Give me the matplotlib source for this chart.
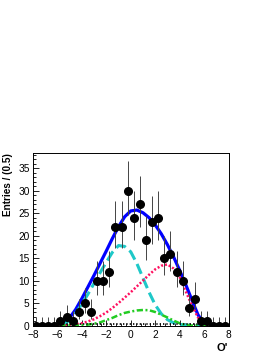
import numpy as np
import matplotlib
matplotlib.use("Agg")
import matplotlib.pyplot as plt
from matplotlib.ticker import MultipleLocator

plt.rcParams['font.family'] = ['Liberation Sans', 'DejaVu Sans']

# binned data (0.5 wide bins from -8 to 8)
bin_centres = np.arange(-7.75, 8.0, 0.5)
entries = [0, 0, 0, 0, 1, 2, 1, 3, 5, 3, 10, 10, 12, 22, 22, 30,
           24, 27, 19, 23, 24, 15, 16, 12, 10, 4, 6, 1, 1, 0, 0, 0]

# fitted curves on a 0.5 grid from -8 to 8
curve_x = np.arange(-8.0, 8.01, 0.5)
nan = np.nan
total_fit = [nan, nan, nan, nan, nan, 0.2, 1.7, 3.6, 6.0, 8.6, 11.2,
             13.9, 16.6, 19.4, 22.0, 24.2, 25.5, 25.7, 25.1, 24.0, 22.4,
             20.4, 18.0, 15.3, 12.3, 9.1, 5.7, 2.4, 0.4, nan, nan, nan, nan]
comp_cyan = [0, 0, 0, 0, 0, 0.1, 1.2, 2.8, 4.8, 7.0, 9.4, 11.8, 14.1,
             16.3, 17.8, 17.6, 16.4, 13.8, 10.6, 7.4, 4.6, 2.6, 1.3, 0.6,
             0.25, 0.1, 0.0, 0, 0, 0, 0, 0, 0]
comp_red = [0, 0, 0, 0.01, 0.02, 0.05, 0.1, 0.25, 0.5, 0.9, 1.4, 2.1, 2.9,
            3.9, 5.0, 6.2, 7.4, 8.7, 10.0, 11.3, 12.5, 13.3, 13.6, 12.7,
            10.8, 7.6, 4.5, 1.8, 0.2, 0, 0, 0, 0]
comp_green = [0, 0, 0, 0, 0, 0, 0, 0, 0.05, 0.2, 0.4, 0.7, 1.2, 1.7, 2.3,
              2.8, 3.1, 3.35, 3.45, 3.4, 3.0, 2.4, 1.8, 1.1, 0.5, 0.15, 0.0,
              0, 0, 0, 0, 0, 0]
comp_bkg = [0.3] * 33

# asymmetric poisson errors (Gehrels approximation)
n = np.array(entries, dtype=float)
err_hi = np.sqrt(n + 0.75) + 1.0
err_lo = np.zeros_like(n)
pos = n > 0
err_lo[pos] = n[pos] - n[pos] * (1 - 1 / (9 * n[pos]) - 1 / (3 * np.sqrt(n[pos]))) ** 3

fig = plt.figure(figsize=(2.74, 3.55), dpi=100)
ax = fig.add_axes([33 / 274, 29.5 / 355, 195.5 / 274, 172.5 / 355])

ax.plot(curve_x, total_fit, color='#0000ff', lw=2.3, zorder=2)
ax.plot(curve_x, comp_cyan, color='#1ec8c8', lw=2.2, dashes=(3.5, 1.6), zorder=3)
ax.plot(curve_x, comp_red, color='#ff1060', lw=1.8, dashes=(0.8, 0.8), zorder=4)
ax.plot(curve_x, comp_green, color='#22cc22', lw=1.8, dashes=(2.5, 1.0, 0.8, 1.0), zorder=4)
ax.plot(curve_x, comp_bkg, color='black', lw=1.2, dashes=(0.8, 1.2), zorder=4)

ax.errorbar(bin_centres, entries, yerr=[err_lo, err_hi], fmt='o', color='black',
            ecolor='#444444', elinewidth=0.7, capsize=0, ms=5.5, zorder=5)

ax.set_xlim(-8, 8)
ax.set_ylim(0, 38.4)
ax.xaxis.set_major_locator(MultipleLocator(2))
ax.xaxis.set_minor_locator(MultipleLocator(0.4))
ax.yaxis.set_major_locator(MultipleLocator(5))
ax.yaxis.set_minor_locator(MultipleLocator(1))
ax.tick_params(which='both', direction='in', top=False, right=False,
               width=0.6, labelsize=7.3)
ax.tick_params(which='major', length=4.3)
ax.tick_params(which='minor', length=2.2)
ax.tick_params(axis='x', pad=3.5)
ax.tick_params(axis='y', pad=2.5)
for sp in ax.spines.values():
    sp.set_linewidth(0.7)

fig.text(8.5 / 274, (355 - 153) / 355, 'Entries / (0.5)', rotation=90,
         ha='center', va='top', fontsize=7.2, fontweight='bold')
fig.text(228 / 274, (355 - 348) / 355, "O'", ha='right', va='center',
         fontsize=8, fontweight='bold')

fig.savefig('out.png', dpi=100)
